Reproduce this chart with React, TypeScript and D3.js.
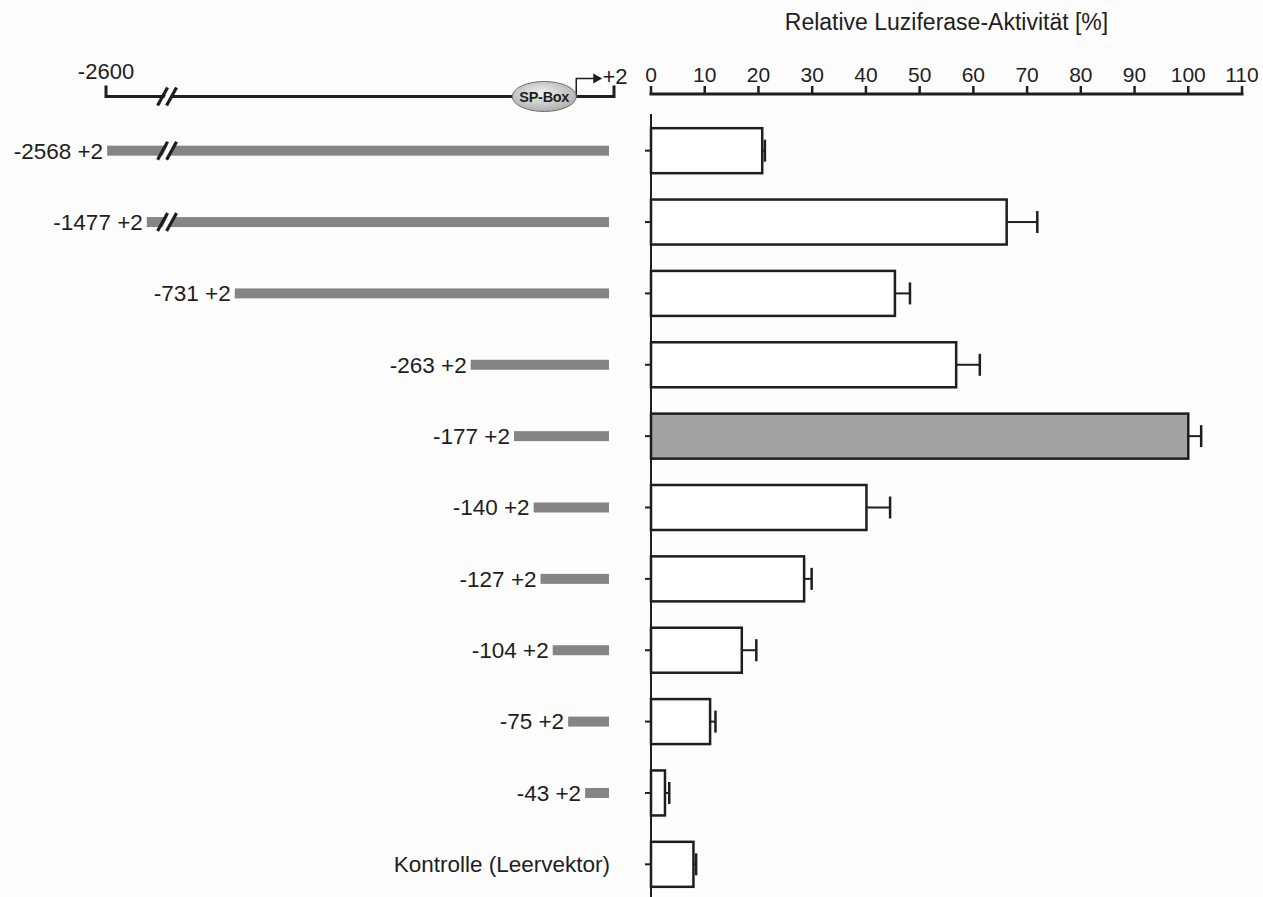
import React from "react";
import * as d3 from "d3";

// constructs (promoter deletions), activity in % of the -177 construct
const constructs = [
  "-2568 +2",
  "-1477 +2",
  "-731 +2",
  "-263 +2",
  "-177 +2",
  "-140 +2",
  "-127 +2",
  "-104 +2",
  "-75 +2",
  "-43 +2",
  "Kontrolle (Leervektor)",
];
const startBp = [-2568, -1477, -731, -263, -177, -140, -127, -104, -75, -43, null];
const endBp = 2;
const activity = [20.7, 66.2, 45.4, 56.8, 100, 40.1, 28.5, 16.9, 11.0, 2.6, 7.9];
const sem = [0.5, 5.7, 2.8, 4.4, 2.4, 4.4, 1.4, 2.7, 1.0, 0.8, 0.5];
const referenceConstruct = "-177 +2";
const xTicks = [0, 10, 20, 30, 40, 50, 60, 70, 80, 90, 100, 110];

const W = 1263;
const H = 897;
const FONT = "'Liberation Sans', Arial, sans-serif";
const INK = "#1e1e1e";
const BG = "#fdfdfd";

export default function App() {
  const mapTop = 96.5;
  const axisTop = 94;

  // bar chart scales
  const x = d3.scaleLinear().domain([0, 110]).range([651, 1242]);
  const y = d3.scalePoint<string>().domain(constructs).range([115, 900]).padding(0.5);
  const barH = 45;

  // schematic promoter map, broken axis (not to scale)
  const map = d3
    .scaleLinear()
    .domain([-2600, -1500, -800, -177, endBp])
    .range([106, 145, 200, 514, 609]);
  const breakBp = -1200;

  const breakMark = (cx: number, cy: number, key: string) => (
    <g key={key}>
      <polygon
        points={`${cx - 8},${cy + 9} ${cx - 1},${cy + 9} ${cx + 8},${cy - 9} ${cx + 1},${cy - 9}`}
        fill={BG}
      />
      <line x1={cx - 11} y1={cy + 9} x2={cx - 1} y2={cy - 9} stroke={INK} strokeWidth={3.2} />
      <line x1={cx - 2} y1={cy + 9} x2={cx + 8} y2={cy - 9} stroke={INK} strokeWidth={3.2} />
    </g>
  );

  const mapRight = map(endBp) + 5;
  const spX = map(-120);

  return (
    <svg
      width={W}
      height={H}
      style={{ position: "absolute", left: 0, top: 0, background: BG }}
      fontFamily={FONT}
    >
      <defs>
        <radialGradient id="spg" cx="45%" cy="40%" r="65%">
          <stop offset="0%" stopColor="#f2f2f2" />
          <stop offset="100%" stopColor="#a9a9a9" />
        </radialGradient>
      </defs>

      {/* title */}
      <text x={946.5} y={30} textAnchor="middle" fontSize={23} fill={INK}>
        Relative Luziferase-Aktivität [%]
      </text>

      {/* top axis of the bar chart */}
      <line x1={x(0) - 1.5} x2={x(110) + 1.5} y1={axisTop} y2={axisTop} stroke={INK} strokeWidth={3} />
      {xTicks.map((t) => (
        <g key={t}>
          <line x1={x(t)} x2={x(t)} y1={axisTop} y2={axisTop - 8} stroke={INK} strokeWidth={2.5} />
          <text x={x(t)} y={axisTop - 12} textAnchor="middle" fontSize={21} fill={INK}>
            {t}
          </text>
        </g>
      ))}

      {/* left axis of the bar chart */}
      <line x1={x(0)} x2={x(0)} y1={114} y2={H} stroke={INK} strokeWidth={2} />
      {constructs.map((c) => (
        <line key={c} x1={x(0) - 6} x2={x(0)} y1={y(c)} y2={y(c)} stroke={INK} strokeWidth={2} />
      ))}

      {/* bars with error bars */}
      {constructs.map((c, i) => {
        const cy = y(c)!;
        const xe = x(activity[i] + sem[i]);
        return (
          <g key={c}>
            <line x1={x(activity[i])} x2={xe} y1={cy} y2={cy} stroke={INK} strokeWidth={2} />
            <line x1={xe} x2={xe} y1={cy - 11} y2={cy + 11} stroke={INK} strokeWidth={2.5} />
            <rect
              x={x(0)}
              y={cy - barH / 2}
              width={x(activity[i]) - x(0)}
              height={barH}
              fill={c === referenceConstruct ? "#a3a3a3" : "#ffffff"}
              stroke={INK}
              strokeWidth={2.5}
            />
          </g>
        );
      })}

      {/* promoter map */}
      <line x1={map(-2600)} x2={mapRight} y1={mapTop} y2={mapTop} stroke={INK} strokeWidth={3} />
      <line x1={map(-2600)} x2={map(-2600)} y1={mapTop + 1.5} y2={mapTop - 11} stroke={INK} strokeWidth={3} />
      <line x1={mapRight} x2={mapRight} y1={mapTop + 1.5} y2={mapTop - 11} stroke={INK} strokeWidth={3} />
      <text x={map(-2600)} y={mapTop - 18} textAnchor="middle" fontSize={22} fill={INK}>
        -2600
      </text>
      {breakMark(map(breakBp), mapTop, "topbreak")}

      {/* transcription start arrow */}
      <path
        d={`M${spX + 32},${mapTop} V${mapTop - 18} H${spX + 50}`}
        fill="none"
        stroke={INK}
        strokeWidth={1.5}
      />
      <polygon
        points={`${spX + 49},${mapTop - 23} ${spX + 58},${mapTop - 18} ${spX + 49},${mapTop - 13}`}
        fill={INK}
      />
      <text x={mapRight + 1} y={mapTop - 13} textAnchor="middle" fontSize={22} fill={INK}>
        +2
      </text>

      {/* SP box */}
      <ellipse cx={spX} cy={mapTop} rx={32} ry={15} fill="url(#spg)" stroke="#6e6e6e" strokeWidth={1} />
      <text
        x={spX}
        y={mapTop + 5}
        textAnchor="middle"
        fontSize={14.5}
        fontWeight="bold"
        letterSpacing={-0.3}
        fill={INK}
      >
        SP-Box
      </text>

      {/* construct bars */}
      {constructs.map((c, i) => {
        const cy = y(c)!;
        const s = startBp[i];
        if (s === null) {
          return (
            <text key={c} x={map(endBp) + 1} y={cy} dy="0.35em" textAnchor="end" fontSize={22.5} fill={INK}>
              {c}
            </text>
          );
        }
        const x0 = map(s);
        const x1 = map(endBp);
        return (
          <g key={c}>
            <rect x={x0} y={cy - 5} width={x1 - x0} height={10} fill="#858585" />
            <text x={x0 - 4} y={cy} dy="0.35em" textAnchor="end" fontSize={22.5} fill={INK}>
              {c}
            </text>
            {s < breakBp ? breakMark(map(breakBp), cy, c + "b") : null}
          </g>
        );
      })}
    </svg>
  );
}
